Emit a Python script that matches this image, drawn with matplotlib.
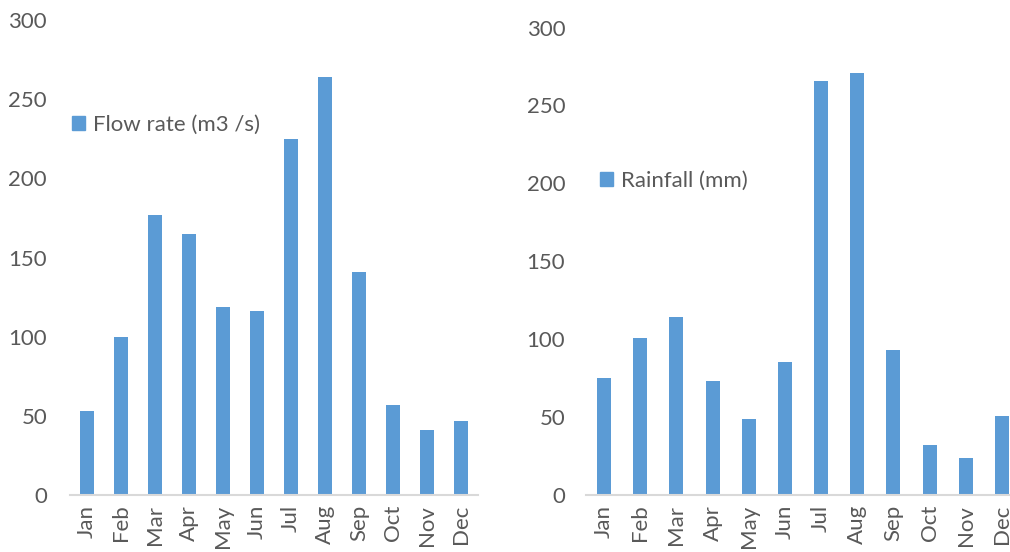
import matplotlib
matplotlib.use("Agg")
import matplotlib.pyplot as plt
from matplotlib.patches import Patch

months = ["Jan", "Feb", "Mar", "Apr", "May", "Jun", "Jul", "Aug", "Sep", "Oct", "Nov", "Dec"]
flow_rate = [53, 100, 177, 165, 119, 116, 225, 264, 141, 57, 41, 47]
rainfall = [75, 101, 114, 73, 49, 85.5, 265.5, 270.5, 93, 32, 24, 51]
yticks = [0, 50, 100, 150, 200, 250, 300]

plt.rcParams['font.family'] = ['Lato', 'DejaVu Sans']
BAR = "#5B9BD5"
TXT = "#595959"
AXC = "#D9D9D9"
FS = 16

fig = plt.figure(figsize=(10.1, 5.52), dpi=100)
fig.patch.set_facecolor("white")

def style(ax, ypad):
    for s in ["top", "right", "left"]:
        ax.spines[s].set_visible(False)
    ax.spines["bottom"].set_color(AXC)
    ax.spines["bottom"].set_linewidth(1.5)
    ax.tick_params(axis="both", length=0, colors=TXT, labelsize=FS)
    ax.tick_params(axis="x", rotation=90, pad=7)
    ax.tick_params(axis="y", pad=ypad)
    ax.set_ylim(0, 300)
    ax.set_yticks(yticks)
    ax.set_xlim(-0.5, len(months) - 0.5)

ax1 = fig.add_axes([70/1010, 57/552, 408/1010, 475/552])
ax1.bar(range(len(months)), flow_rate, width=0.42, color=BAR)
ax1.set_xticks(range(len(months)))
ax1.set_xticklabels(months)
style(ax1, 16.5)
ax1.legend(handles=[Patch(color=BAR, label="Flow rate (m3 /s)")],
           loc="center left", bbox_to_anchor=(72/1010, 1 - 125/552),
           bbox_transform=fig.transFigure, frameon=False, fontsize=FS,
           handlelength=0.6, handleheight=0.6, handletextpad=0.35,
           borderpad=0, borderaxespad=0, labelcolor=TXT)

ax2 = fig.add_axes([586/1010, 57/552, 434/1010, 467.5/552])
ax2.bar(range(len(months)), rainfall, width=0.39, color=BAR)
ax2.set_xticks(range(len(months)))
ax2.set_xticklabels(months)
style(ax2, 15)
ax2.legend(handles=[Patch(color=BAR, label="Rainfall (mm)")],
           loc="center left", bbox_to_anchor=(600/1010, 1 - 181/552),
           bbox_transform=fig.transFigure, frameon=False, fontsize=FS,
           handlelength=0.6, handleheight=0.6, handletextpad=0.35,
           borderpad=0, borderaxespad=0, labelcolor=TXT)

fig.savefig("out.png", dpi=100)
